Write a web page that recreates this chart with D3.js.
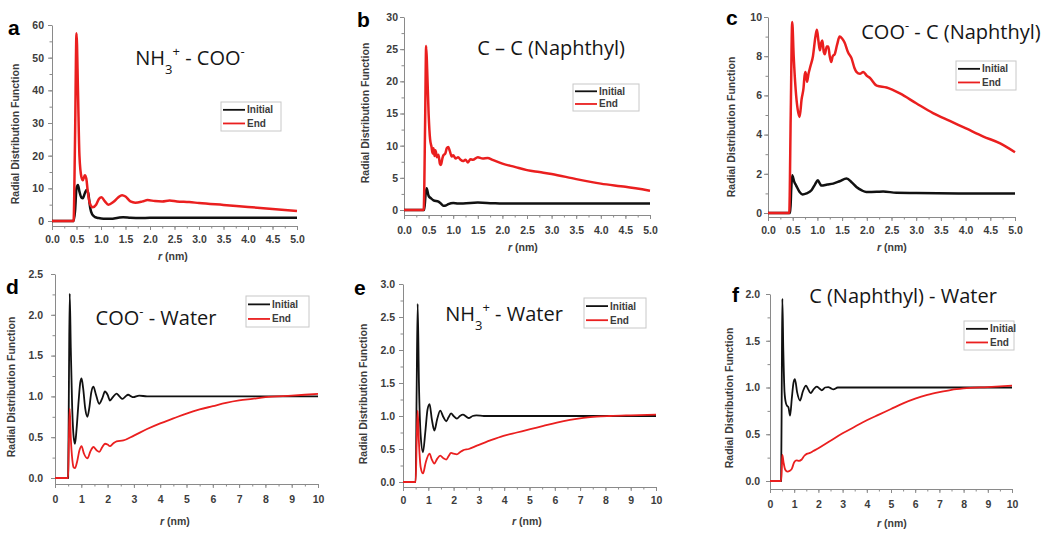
<!DOCTYPE html>
<html><head><meta charset="utf-8">
<script src="https://cdn.jsdelivr.net/npm/d3@7"></script>
<style>body{margin:0;background:#fff}</style>
</head><body><svg id="c" width="1050" height="534"></svg>
<script>
// ---------- DATA ----------
const seriesNames = ["Initial", "End"];
const panelLetters = ["a", "b", "c", "d", "e", "f"];
const panelTitles = [
  [{t:"NH"},{t:"3",s:"sub"},{t:"+",s:"super"},{t:" - COO"},{t:"-",s:"super"}],
  [{t:"C – C (Naphthyl)"}],
  [{t:"COO"},{t:"-",s:"super"},{t:" - C (Naphthyl)"}],
  [{t:"COO"},{t:"-",s:"super"},{t:" - Water"}],
  [{t:"NH"},{t:"3",s:"sub"},{t:"+",s:"super"},{t:" - Water"}],
  [{t:"C (Naphthyl) - Water"}]
];
const yAxisTitle = "Radial Distribution Function";
const xTicksShort = [0,0.5,1,1.5,2,2.5,3,3.5,4,4.5,5];
const xTicksLong = [0,1,2,3,4,5,6,7,8,9,10];
const yTicksA = [0,10,20,30,40,50,60];
const yTicksB = [0,5,10,15,20,25,30];
const yTicksC = [0,2,4,6,8,10];
const yTicksD = [0,0.5,1,1.5,2,2.5];
const yTicksE = [0,0.5,1,1.5,2,2.5,3];
const yTicksF = [0,0.5,1,1.5,2];

const aInitial = [[0,0],[0.44,0],[0.47,3],[0.5,10],[0.53,11],[0.56,9],[0.6,7.2],[0.63,7],[0.67,8.5],[0.71,9.6],[0.74,8.5],[0.78,4],[0.82,2],[0.88,1.2],[0.95,0.9],[1.05,0.7],[1.2,0.7],[1.35,1.0],[1.45,1.15],[1.6,1.0],[1.8,0.9],[2.0,1.0],[2.5,1.0],[3,1.0],[4,1.0],[5,1.0]];
const aEnd = [[0,0],[0.44,0],[0.47,25],[0.5,57.5],[0.53,40],[0.56,20],[0.6,13.5],[0.63,12.5],[0.67,14],[0.7,13],[0.73,9],[0.77,5.5],[0.83,4.2],[0.9,5],[0.96,6.8],[1.01,7.3],[1.08,6],[1.15,5],[1.25,5.8],[1.35,7.2],[1.43,7.9],[1.5,7.5],[1.6,6],[1.7,5.6],[1.85,6],[1.95,6.4],[2.1,6.1],[2.25,6.0],[2.4,6.3],[2.55,6.0],[2.8,5.8],[3.0,5.5],[3.5,4.9],[4.0,4.3],[4.5,3.7],[5.0,3.05]];

const bInitial = [[0,0],[0.41,0],[0.44,2.5],[0.46,3.4],[0.5,2.2],[0.55,1.8],[0.6,1.5],[0.7,1.3],[0.75,1.0],[0.8,0.65],[0.85,0.7],[0.9,0.9],[1.0,1.1],[1.1,1.0],[1.2,1.0],[1.5,1.15],[1.8,1.05],[2.0,1.0],[3,1.0],[4,1.0],[5,1.0]];
const bEnd = [[0,0],[0.4,0],[0.43,14],[0.45,25.5],[0.47,22],[0.5,15],[0.53,11],[0.56,9.8],[0.58,8.8],[0.6,9.6],[0.62,8.4],[0.64,9.3],[0.67,8.2],[0.7,8.6],[0.73,7.2],[0.75,7.0],[0.78,8.0],[0.8,8.5],[0.84,8.8],[0.87,9.6],[0.9,9.8],[0.93,9.2],[0.97,8.3],[1.0,8.5],[1.05,8.0],[1.1,8.2],[1.15,7.8],[1.2,7.6],[1.25,7.8],[1.3,7.4],[1.35,7.9],[1.4,7.8],[1.5,8.2],[1.6,8.0],[1.7,8.1],[1.8,7.8],[2.0,7.2],[2.25,6.7],[2.5,6.2],[2.75,5.9],[3.0,5.6],[3.5,4.8],[4.0,4.1],[4.5,3.6],[5.0,3.0]];

const cInitial = [[0,0],[0.45,0],[0.47,1.2],[0.49,1.93],[0.53,1.6],[0.57,1.4],[0.64,1.07],[0.7,0.95],[0.78,1.0],[0.88,1.16],[0.95,1.45],[1.01,1.67],[1.05,1.5],[1.08,1.4],[1.2,1.45],[1.32,1.5],[1.45,1.62],[1.59,1.76],[1.7,1.55],[1.79,1.33],[1.9,1.15],[1.99,1.07],[2.2,1.08],[2.33,1.1],[2.6,1.03],[3,1.02],[4,1.0],[5,1.0]];
const cEnd = [[0,0],[0.43,0],[0.46,5],[0.49,9.75],[0.52,8],[0.56,6.3],[0.6,5.3],[0.64,4.9],[0.68,5.8],[0.72,6.4],[0.74,7.0],[0.76,7.2],[0.79,6.7],[0.82,7.1],[0.86,7.5],[0.91,8.0],[0.96,9.0],[0.99,9.35],[1.02,8.8],[1.05,8.3],[1.08,8.7],[1.1,8.8],[1.13,8.2],[1.15,8.1],[1.19,8.5],[1.22,8.5],[1.25,8.0],[1.28,7.7],[1.31,8.0],[1.35,8.1],[1.4,8.6],[1.45,9.0],[1.5,8.9],[1.55,8.7],[1.62,8.2],[1.69,7.9],[1.75,7.4],[1.79,7.2],[1.86,7.1],[1.93,7.2],[2.0,7.0],[2.06,6.9],[2.2,6.5],[2.4,6.4],[2.67,6.1],[3.0,5.6],[3.34,5.1],[3.68,4.7],[4.02,4.3],[4.36,3.9],[4.7,3.55],[5.0,3.1]];

const dInitial = [[0,0],[0.5,0],[0.53,1.2],[0.56,2.26],[0.6,1.6],[0.65,0.9],[0.71,0.5],[0.76,0.42],[0.82,0.6],[0.9,0.95],[0.96,1.17],[1.01,1.22],[1.07,1.1],[1.15,0.85],[1.23,0.75],[1.3,0.85],[1.38,1.05],[1.46,1.12],[1.55,1.03],[1.68,0.91],[1.8,0.98],[1.9,1.06],[2.0,1.02],[2.09,0.95],[2.2,0.99],[2.34,1.035],[2.45,1.0],[2.57,0.97],[2.68,1.0],[2.78,1.02],[2.9,1.0],[2.97,0.99],[3.2,1.01],[3.5,1.0],[10,1.0]];
const dEnd = [[0,0],[0.5,0],[0.53,0.5],[0.56,0.85],[0.6,0.5],[0.66,0.22],[0.71,0.13],[0.76,0.12],[0.84,0.2],[0.93,0.34],[1.01,0.39],[1.1,0.3],[1.23,0.24],[1.35,0.33],[1.46,0.38],[1.58,0.34],[1.68,0.32],[1.8,0.38],[1.9,0.42],[2.0,0.41],[2.09,0.39],[2.2,0.42],[2.34,0.45],[2.6,0.46],[3,0.52],[3.5,0.6],[4,0.67],[4.5,0.73],[5,0.79],[5.5,0.84],[6,0.88],[6.5,0.92],[7,0.95],[7.5,0.97],[8,0.99],[9,1.01],[10,1.03]];

const eInitial = [[0,0],[0.5,0],[0.54,1.4],[0.58,2.7],[0.63,1.5],[0.7,0.7],[0.79,0.45],[0.88,0.75],[0.97,1.1],[1.05,1.18],[1.14,0.95],[1.24,0.78],[1.35,0.95],[1.47,1.08],[1.6,0.98],[1.71,0.92],[1.8,0.98],[1.9,1.04],[2.0,1.0],[2.13,0.96],[2.25,1.0],[2.37,1.02],[2.5,0.99],[2.6,0.97],[2.75,1.0],[2.9,1.01],[3.2,1.0],[10,1.0]];
const eEnd = [[0,0],[0.5,0],[0.54,0.6],[0.58,1.08],[0.63,0.6],[0.7,0.22],[0.79,0.13],[0.9,0.3],[1.05,0.43],[1.14,0.34],[1.24,0.28],[1.35,0.35],[1.47,0.4],[1.6,0.36],[1.71,0.34],[1.8,0.39],[1.9,0.44],[2.0,0.43],[2.13,0.42],[2.25,0.45],[2.37,0.48],[2.6,0.5],[2.92,0.55],[3.45,0.63],[3.97,0.7],[4.5,0.75],[5.03,0.8],[5.55,0.85],[6.08,0.9],[6.6,0.94],[7.13,0.97],[7.65,0.99],[8.18,1.0],[9,1.01],[10,1.02]];

const fInitial = [[0,0],[0.46,0],[0.49,1.2],[0.51,1.95],[0.55,1.4],[0.6,0.95],[0.66,0.83],[0.72,0.8],[0.76,0.79],[0.83,0.7],[0.9,0.88],[0.97,1.05],[1.03,1.09],[1.12,0.95],[1.24,0.86],[1.36,0.96],[1.49,1.02],[1.58,0.98],[1.68,0.94],[1.8,0.98],[1.93,1.01],[2.04,0.99],[2.14,0.97],[2.28,1.0],[2.41,1.005],[2.52,0.99],[2.62,0.98],[2.8,1.0],[3,1.0],[10,1.0]];
const fEnd = [[0,0],[0.46,0],[0.49,0.15],[0.51,0.28],[0.56,0.2],[0.63,0.12],[0.72,0.1],[0.82,0.11],[0.9,0.13],[1.0,0.2],[1.1,0.22],[1.2,0.215],[1.31,0.23],[1.42,0.27],[1.52,0.29],[1.65,0.3],[1.79,0.32],[2.0,0.35],[2.5,0.43],[3,0.51],[3.5,0.58],[4,0.65],[4.5,0.71],[5,0.77],[5.5,0.83],[6,0.88],[6.5,0.92],[7,0.95],[7.5,0.975],[8,0.99],[9,1.005],[10,1.02]];

// ---------- LAYOUT ----------
const RED = "#ea1f1f", BLACK = "#111";
const panels = [
  {x0:52, x1:297, xMax:5, yZero:221, yTop:25, yMax:60, axisY:226, xTicks:xTicksShort, yTicks:yTicksA, xMinorStep:0.25, yMinorStep:5, xFmt:d3.format(".1f"), yFmt:d3.format("d"), xLabOff:13, yLabGap:8,
   ini:aInitial, end:aEnd, letter:[8,35], yTitle:[15,134], xTitle:[173,260], title:[190,65,"middle"], legend:[221,102,60,29], lw:2.5},
  {x0:404, x1:650, xMax:5, yZero:210, yTop:17, yMax:30, axisY:215, xTicks:xTicksShort, yTicks:yTicksB, xMinorStep:0.25, yMinorStep:2.5, xFmt:d3.format(".1f"), yFmt:d3.format("d"), xLabOff:15, yLabGap:6,
   ini:bInitial, end:bEnd, letter:[357,27], yTitle:[365,113], xTitle:[523,251], title:[551,55,"middle"], legend:[573,84,66,27], lw:2.5},
  {x0:768, x1:1015, xMax:5, yZero:213, yTop:17, yMax:10, axisY:217, xTicks:xTicksShort, yTicks:yTicksC, xMinorStep:0.25, yMinorStep:1, xFmt:d3.format(".1f"), yFmt:d3.format("d"), xLabOff:13, yLabGap:6,
   ini:cInitial, end:cEnd, letter:[726,25], yTitle:[731,127], xTitle:[892,251], title:[951,39,"middle"], legend:[956,61,60,29], lw:2.5},
  {x0:55, x1:318, xMax:10, yZero:478, yTop:274, yMax:2.5, axisY:484, xTicks:xTicksLong, yTicks:yTicksD, xMinorStep:0.5, yMinorStep:0.25, xFmt:d3.format("d"), yFmt:d3.format(".1f"), xLabOff:15, yLabGap:12,
   ini:dInitial, end:dEnd, letter:[6,294], yTitle:[11,387], xTitle:[175,525], title:[156,325,"middle"], legend:[246,296,63,31], lw:1.8},
  {x0:403, x1:656, xMax:10, yZero:482, yTop:284, yMax:3, axisY:487, xTicks:xTicksLong, yTicks:yTicksE, xMinorStep:0.5, yMinorStep:0.25, xFmt:d3.format("d"), yFmt:d3.format(".1f"), xLabOff:13, yLabGap:8,
   ini:eInitial, end:eEnd, letter:[354,295], yTitle:[363,394], xTitle:[527,525], title:[504,321,"middle"], legend:[584,298,62,30], lw:1.8},
  {x0:770, x1:1012, xMax:10, yZero:481, yTop:294, yMax:2, axisY:489, xTicks:xTicksLong, yTicks:yTicksF, xMinorStep:0.5, yMinorStep:0.25, xFmt:d3.format("d"), yFmt:d3.format(".1f"), xLabOff:15, yLabGap:10,
   ini:fInitial, end:fEnd, letter:[732,302], yTitle:[729,398], xTitle:[892,527], title:[903,303,"middle"], legend:[964,321,50,29], lw:1.8}
];

const svg = d3.select("#c");
const TICKFONT = "'Liberation Sans', Arial, sans-serif";

function styleAxis(sel) {
  sel.select(".domain").attr("stroke", "#8a8a8a").attr("stroke-width", 1);
  sel.selectAll(".tick line").attr("stroke", "#8a8a8a");
  sel.selectAll("text").attr("font-family", TICKFONT).attr("font-weight", "bold").attr("font-size", "10.5px").attr("fill", "#3c3c3c");
}

panels.forEach((p, i) => {
  const g = svg.append("g");
  const yMin = -(p.axisY - p.yZero) / (p.yZero - p.yTop) * p.yMax;
  const x = d3.scaleLinear().domain([0, p.xMax]).range([p.x0, p.x1]);
  const y = d3.scaleLinear().domain([yMin, p.yMax]).range([p.axisY, p.yTop]);
  const xMinor = d3.range(0, p.xMax + 1e-9, p.xMinorStep);
  const yMinor = d3.range(0, p.yMax + 1e-9, p.yMinorStep);

  // minor ticks
  g.append("g").attr("transform", `translate(0,${p.axisY})`)
    .call(d3.axisBottom(x).tickValues(xMinor).tickSize(2.5).tickFormat(""))
    .call(s => { s.select(".domain").remove(); s.selectAll("line").attr("stroke", "#8a8a8a"); });
  g.append("g").attr("transform", `translate(${p.x0},0)`)
    .call(d3.axisLeft(y).tickValues(yMinor).tickSize(2.5).tickFormat(""))
    .call(s => { s.select(".domain").remove(); s.selectAll("line").attr("stroke", "#8a8a8a"); });

  // major axes
  const gx = g.append("g").attr("transform", `translate(0,${p.axisY})`)
    .call(d3.axisBottom(x).tickValues(p.xTicks).tickSize(4).tickSizeOuter(0).tickFormat(p.xFmt));
  styleAxis(gx);
  gx.selectAll("text").attr("y", p.xLabOff).attr("dy", "0.35em");
  const gy = g.append("g").attr("transform", `translate(${p.x0},0)`)
    .call(d3.axisLeft(y).tickValues(p.yTicks).tickSize(4).tickSizeOuter(0).tickFormat(p.yFmt));
  styleAxis(gy);
  gy.selectAll("text").attr("x", -p.yLabGap);

  // curves
  const line = d3.line().x(d => x(d[0])).y(d => y(d[1])).curve(d3.curveMonotoneX);
  g.append("path").datum(p.ini).attr("d", line).attr("fill", "none").attr("stroke", BLACK).attr("stroke-width", p.lw).attr("stroke-linejoin", "round");
  g.append("path").datum(p.end).attr("d", line).attr("fill", "none").attr("stroke", RED).attr("stroke-width", p.lw).attr("stroke-linejoin", "round");

  // axis titles
  g.append("text").attr("transform", `translate(${p.yTitle[0]},${p.yTitle[1]}) rotate(-90)`)
    .attr("text-anchor", "middle").attr("dy", "0.35em")
    .attr("font-family", TICKFONT).attr("font-weight", "bold").attr("font-size", "10.5px").attr("fill", "#3c3c3c")
    .text(yAxisTitle);
  const xt = g.append("text").attr("x", p.xTitle[0]).attr("y", p.xTitle[1]).attr("text-anchor", "middle")
    .attr("font-family", TICKFONT).attr("font-weight", "bold").attr("font-size", "10.5px").attr("fill", "#3c3c3c");
  xt.append("tspan").attr("font-style", "italic").text("r");
  xt.append("tspan").text(" (nm)");

  // panel letter
  g.append("text").attr("x", p.letter[0]).attr("y", p.letter[1])
    .attr("font-family", TICKFONT).attr("font-weight", "bold").attr("font-size", "21px").attr("fill", "#000")
    .text(panelLetters[i]);

  // panel title
  const tt = g.append("text").attr("x", p.title[0]).attr("y", p.title[1]).attr("text-anchor", p.title[2])
    .attr("font-family", "'Open Sans', 'Noto Sans', sans-serif").attr("font-size", "20px").attr("fill", "#161616");
  panelTitles[i].forEach(seg => {
    const ts = tt.append("tspan").text(seg.t);
    if (seg.s) ts.attr("baseline-shift", seg.s).attr("font-size", "13px");
  });

  // legend
  const [lx, ly, lwid, lh] = p.legend;
  const lg = g.append("g");
  lg.append("rect").attr("x", lx).attr("y", ly).attr("width", lwid).attr("height", lh)
    .attr("fill", "#fff").attr("stroke", "#c8c8c8").attr("stroke-width", 1);
  [BLACK, RED].forEach((col, k) => {
    const yy = ly + lh * (k === 0 ? 0.27 : 0.74);
    lg.append("line").attr("x1", lx + 2).attr("x2", lx + 24).attr("y1", yy).attr("y2", yy)
      .attr("stroke", col).attr("stroke-width", 1.8);
    lg.append("text").attr("x", lx + 26).attr("y", yy).attr("dy", "0.35em")
      .attr("font-family", TICKFONT).attr("font-weight", "bold").attr("font-size", "10px").attr("fill", "#3c3c3c")
      .text(seriesNames[k]);
  });
});
</script>
</body></html>
